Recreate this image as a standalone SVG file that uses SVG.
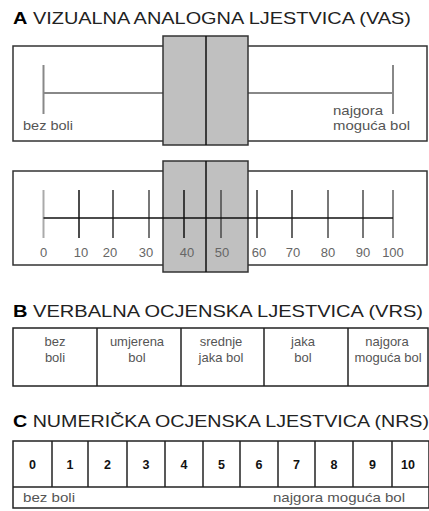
<svg xmlns="http://www.w3.org/2000/svg" width="429" height="511" viewBox="0 0 429 511">
<style>
.title{font-family:"Liberation Sans",Arial,sans-serif;font-size:17px;fill:#222}
.title .b{font-weight:bold;fill:#000}
.lbl{font-family:"Liberation Sans",Arial,sans-serif;font-size:13px;fill:#555}
.tk{font-family:"Liberation Sans",Arial,sans-serif;font-size:13px;fill:#666;text-anchor:middle}
.num{font-family:"Liberation Sans",Arial,sans-serif;font-size:12.5px;font-weight:bold;fill:#111;text-anchor:middle}
.box{fill:#fff;stroke:#333;stroke-width:1.5}
.slider{fill:#c0c0c0;stroke:#333;stroke-width:1.5}
.g{stroke:#888;stroke-width:2}
.k{stroke:#111;stroke-width:1.5}
.cell{fill:none;stroke:#222;stroke-width:1.5}
.c{text-anchor:middle}
</style>
<rect width="429" height="511" fill="#fff"/>
<g id="titleA"><text class="title" x="13" y="24" textLength="398" lengthAdjust="spacingAndGlyphs"><tspan class="b">A</tspan> VIZUALNA ANALOGNA LJESTVICA (VAS)</text></g>
<g id="vas1">
<rect class="box" x="13" y="46" width="414" height="95"/>
<line class="g" x1="43.5" y1="65" x2="43.5" y2="114"/>
<line class="g" x1="393" y1="65" x2="393" y2="114"/>
<line class="g" x1="43.5" y1="93" x2="393" y2="93"/>
<text class="lbl" x="23" y="130" textLength="50" lengthAdjust="spacingAndGlyphs">bez boli</text>
<text class="lbl" x="333" y="115" textLength="50" lengthAdjust="spacingAndGlyphs">najgora</text>
<text class="lbl" x="333" y="130" textLength="77" lengthAdjust="spacingAndGlyphs">moguća bol</text>
<rect class="slider" x="163" y="36" width="85" height="109"/>
<line class="k" x1="206" y1="36" x2="206" y2="145" stroke-width="2"/>
</g>
<g id="vas2">
<rect class="box" x="13" y="171" width="414" height="94"/>
<rect class="slider" x="163" y="161" width="85" height="111"/>
<g id="ticks">
<line x1="43.5" y1="190" x2="43.5" y2="238" stroke="#aaa" stroke-width="2"/>
<line x1="79" y1="190" x2="79" y2="238" stroke="#111" stroke-width="1.5"/>
<line x1="113" y1="190" x2="113" y2="238" stroke="#333" stroke-width="1.5"/>
<line x1="149" y1="190" x2="149" y2="238" stroke="#777" stroke-width="2"/>
<line x1="184" y1="190" x2="184" y2="238" stroke="#111" stroke-width="1.5"/>
<line x1="221" y1="190" x2="221" y2="238" stroke="#666" stroke-width="2"/>
<line x1="257" y1="190" x2="257" y2="238" stroke="#333" stroke-width="1.5"/>
<line x1="292" y1="190" x2="292" y2="238" stroke="#555" stroke-width="1.8"/>
<line x1="328" y1="190" x2="328" y2="238" stroke="#777" stroke-width="2"/>
<line x1="363" y1="190" x2="363" y2="238" stroke="#777" stroke-width="2"/>
<line x1="393" y1="190" x2="393" y2="238" stroke="#888" stroke-width="2"/>
</g>
<line class="k" x1="43.5" y1="218" x2="393" y2="218"/>
<line class="k" x1="206" y1="161" x2="206" y2="272" stroke-width="2"/>
<g>
<text class="tk" x="43.5" y="257">0</text>
<text class="tk" x="81" y="257">10</text>
<text class="tk" x="110" y="257">20</text>
<text class="tk" x="146" y="257">30</text>
<text class="tk" x="187" y="257">40</text>
<text class="tk" x="222" y="257">50</text>
<text class="tk" x="259" y="257">60</text>
<text class="tk" x="293" y="257">70</text>
<text class="tk" x="328" y="257">80</text>
<text class="tk" x="363" y="257">90</text>
<text class="tk" x="393" y="257">100</text>
</g>
</g>
<g id="titleB"><text class="title" x="13" y="317" textLength="410" lengthAdjust="spacingAndGlyphs"><tspan class="b">B</tspan> VERBALNA OCJENSKA LJESTVICA (VRS)</text></g>
<g id="vrs">
<rect class="cell" x="13" y="328" width="415" height="58"/>
<line class="cell" x1="97" y1="328" x2="97" y2="386"/>
<line class="cell" x1="181" y1="328" x2="181" y2="386"/>
<line class="cell" x1="264" y1="328" x2="264" y2="386"/>
<line class="cell" x1="348" y1="328" x2="348" y2="386"/>
<g class="lbl c">
<text x="55" y="346">bez</text><text x="55" y="362">boli</text>
<text x="137" y="346">umjerena</text><text x="137" y="362">bol</text>
<text x="221" y="346">srednje</text><text x="221" y="362">jaka bol</text>
<text x="303" y="346">jaka</text><text x="303" y="362">bol</text>
<text x="387" y="346">najgora</text><text x="388" y="362">moguća bol</text>
</g>
</g>
<g id="titleC"><text class="title" x="13" y="427" textLength="416" lengthAdjust="spacingAndGlyphs"><tspan class="b">C</tspan> NUMERIČKA OCJENSKA LJESTVICA (NRS)</text></g>
<g id="nrs">
<rect class="cell" x="13" y="441" width="416" height="67"/>
<line class="cell" x1="13" y1="487" x2="429" y2="487"/>
<g class="cell">
<line x1="52" y1="441" x2="52" y2="487"/>
<line x1="88" y1="441" x2="88" y2="487"/>
<line x1="127" y1="441" x2="127" y2="487"/>
<line x1="165" y1="441" x2="165" y2="487"/>
<line x1="203" y1="441" x2="203" y2="487"/>
<line x1="240" y1="441" x2="240" y2="487"/>
<line x1="278" y1="441" x2="278" y2="487"/>
<line x1="315" y1="441" x2="315" y2="487"/>
<line x1="353" y1="441" x2="353" y2="487"/>
<line x1="392" y1="441" x2="392" y2="487"/>
</g>
<text class="num" x="32.5" y="469">0</text>
<text class="num" x="70" y="469">1</text>
<text class="num" x="107.5" y="469">2</text>
<text class="num" x="146" y="469">3</text>
<text class="num" x="184" y="469">4</text>
<text class="num" x="221.5" y="469">5</text>
<text class="num" x="259" y="469">6</text>
<text class="num" x="296.5" y="469">7</text>
<text class="num" x="334" y="469">8</text>
<text class="num" x="372.5" y="469">9</text>
<text class="num" x="408" y="469">10</text>
<text class="lbl" x="23" y="502" textLength="52" lengthAdjust="spacingAndGlyphs">bez boli</text>
<text class="lbl" x="273" y="502" textLength="132" lengthAdjust="spacingAndGlyphs">najgora moguća bol</text>
</g>
</svg>
